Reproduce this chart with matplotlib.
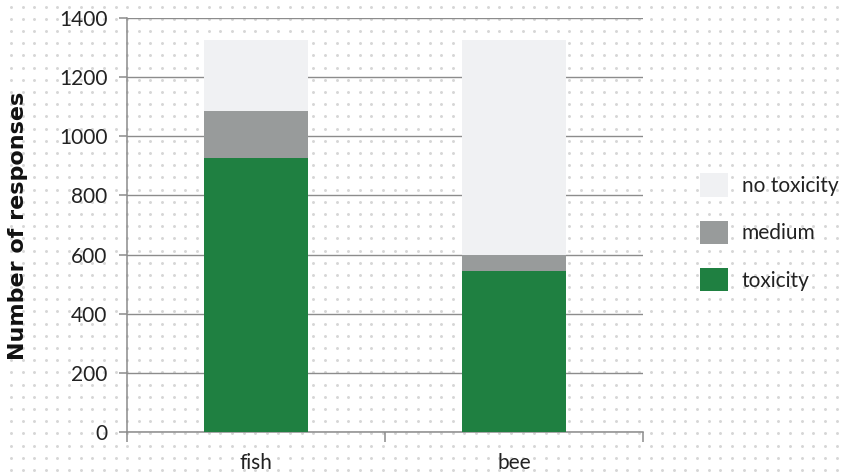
import numpy as np
import matplotlib
matplotlib.use("Agg")
import matplotlib.pyplot as plt

# data
categories = ["fish", "bee"]
toxicity = [925, 545]
medium = [160, 53]
no_toxicity = [240, 727]
series_labels = ["toxicity", "medium", "no toxicity"]
series_colors = ["#1f8041", "#989b9b", "#f0f1f3"]
yticks = [0, 200, 400, 600, 800, 1000, 1200, 1400]

W, H = 843, 474
fig = plt.figure(figsize=(W / 100, H / 100), dpi=100)
fig.patch.set_facecolor("white")

# dotted background over the whole figure
bg = fig.add_axes([0, 0, 1, 1], zorder=0)
bg.set_xlim(0, W)
bg.set_ylim(H, 0)
bg.axis("off")
dx = np.arange(10.9, W, 11.63)
dy = np.arange(6.7, H, 12.19)
gx, gy = np.meshgrid(dx, dy)
bg.scatter(gx.ravel(), gy.ravel(), s=4.5, color="#d6d6d6", linewidths=0)

ax = fig.add_axes([127 / W, 1 - 432 / H, 516 / W, 414 / H], zorder=1)
ax.patch.set_alpha(0)

x = np.arange(len(categories))
bottom = np.zeros(len(categories))
handles = []
for vals, lab, col in zip([toxicity, medium, no_toxicity], series_labels, series_colors):
    b = ax.bar(x, vals, width=0.4, bottom=bottom, color=col, label=lab, zorder=3)
    handles.append(b)
    bottom += np.array(vals)

ax.set_xlim(-0.5, 1.5)
ax.set_ylim(0, 1400)
ax.set_yticks(yticks)
ax.yaxis.grid(True, color="#8c8c8c", linewidth=1.0, zorder=1)
ax.set_axisbelow(True)

for s in ["top", "right"]:
    ax.spines[s].set_visible(False)
for s in ["left", "bottom"]:
    ax.spines[s].set_color("#8c8c8c")
    ax.spines[s].set_linewidth(1.1)

ax.set_xticks(x)
ax.set_xticklabels(categories)
ax.set_xticks([-0.5, 0.5, 1.5], minor=True)
ax.tick_params(axis="x", which="major", length=0, pad=15, labelsize=15,
               labelcolor="#222222")
ax.tick_params(axis="x", which="minor", length=7, width=1.1, color="#8c8c8c",
               direction="out")
ax.tick_params(axis="y", length=6, width=1.1, color="#8c8c8c", pad=8,
               labelsize=15, labelcolor="#222222")
for t in ax.get_xticklabels() + ax.get_yticklabels():
    t.set_family("Lato")

fig.text(18 / W, 1 - 226 / H, "Number of responses", rotation=90, ha="center",
         va="center", fontsize=16, fontweight="bold", family="DejaVu Sans",
         color="#111111")

leg = ax.legend(handles[::-1], series_labels[::-1], loc="upper left",
                bbox_to_anchor=(1.09, 0.65), frameon=False,
                prop={"family": "Lato", "size": 15},
                handlelength=1.35, handleheight=1.35, handletextpad=0.65,
                labelspacing=1.15, borderpad=0)
for t in leg.get_texts():
    t.set_color("#222222")

fig.savefig("out.png", dpi=100)
